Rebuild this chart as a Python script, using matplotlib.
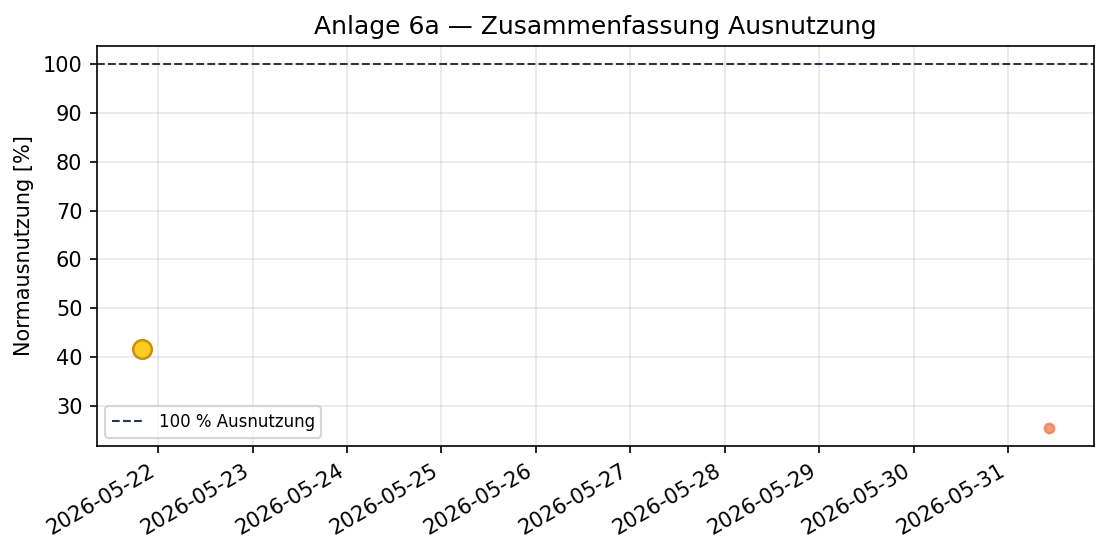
import matplotlib
matplotlib.use("Agg")
import matplotlib.pyplot as plt
import matplotlib.dates as mdates
import pandas as pd

# data
dates_big = pd.to_datetime(["2026-05-21 20:00"])
vals_big = [41.6]
dates_small = pd.to_datetime(["2026-05-31 10:20"])
vals_small = [25.5]
limit = 100

fig, ax = plt.subplots(figsize=(7.4, 3.7), dpi=150)

ax.scatter(dates_small, vals_small, s=22, color="#f07850", alpha=0.75, zorder=3)
ax.scatter(dates_big, vals_big, s=80, color="#fbcd1f", edgecolor="#c98f0c",
           linewidth=1.2, zorder=4)
ax.axhline(limit, color="#2b3350", linestyle="--", linewidth=1,
           label="100 % Ausnutzung")

ax.set_title("Anlage 6a — Zusammenfassung Ausnutzung")
ax.set_ylabel("Normausnutzung [%]")
ax.grid(True, alpha=0.3)
ax.legend(loc="lower left", fontsize=8)

ax.xaxis.set_major_locator(mdates.DayLocator())
ax.xaxis.set_major_formatter(mdates.DateFormatter("%Y-%m-%d"))
fig.autofmt_xdate()

fig.subplots_adjust(left=0.0874, right=0.9856, top=0.9171, bottom=0.1964)
plt.savefig("out.png")
